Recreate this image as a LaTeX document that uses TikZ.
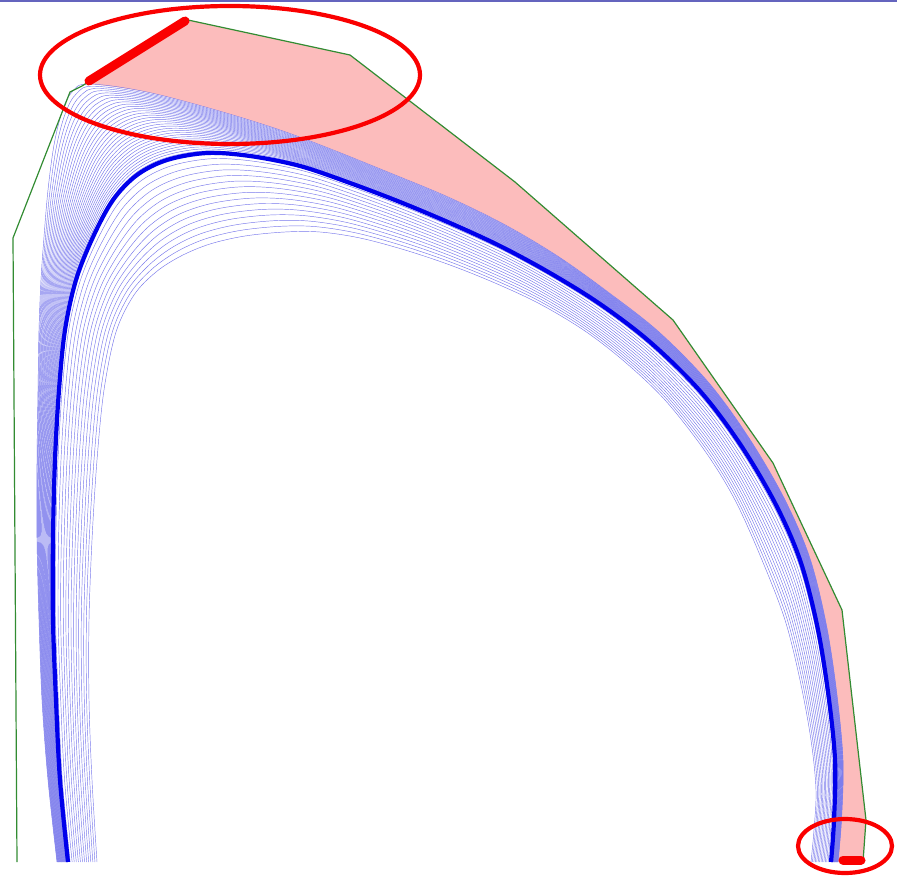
\documentclass[tikz,border=0pt]{standalone}
\usetikzlibrary{calc}
\definecolor{pinkfill}{RGB}{252,188,188}
\definecolor{wallgreen}{RGB}{50,140,50}
\definecolor{fluxblue}{RGB}{0,0,235}
\definecolor{thinblue}{RGB}{120,120,235}
\definecolor{topbar}{RGB}{100,100,190}
\definecolor{markred}{RGB}{250,0,0}
\newcommand\buildlist[2]{\gdef\ptlist{}\foreach \j in {1,...,32}{\xdef\ptlist{\ptlist($(T\j)!#2!(#1\j)$) }}}
\newcommand\drawfam[3]{\buildlist{#2}{#3}\edef\tmpcmd{\noexpand\draw[#1] plot[smooth,tension=0.55] coordinates {\ptlist};}\tmpcmd}
\begin{document}
\begin{tikzpicture}[x=1pt,y=-1pt,
  thinline/.style={draw=thinblue,line width=0.45pt},
  thickline/.style={draw=fluxblue,line width=4.2pt},
  wall/.style={draw=wallgreen,line width=1.2pt,line join=miter},
  redring/.style={draw=markred,line width=4.2pt},
  redbar/.style={draw=markred,line width=9pt,line cap=round}]
\useasboundingbox (0,0) rectangle (897,877);
% thick (separatrix) curve
\foreach \n/\p in {1/{68,862},2/{60,780},3/{56,700},4/{53,620},5/{53,540},6/{55,460},7/{59,390},8/{65,330},
  9/{76,280},10/{93,237},11/{113,200},12/{137,175},13/{167,160},14/{207,153},15/{250,156},16/{300,166},
  17/{350,183},18/{400,202},19/{450,223},20/{500,246},21/{550,273},22/{600,304},23/{650,342},24/{700,391},
  25/{740,444},26/{775,503},27/{800,560},28/{817,625},29/{828,692},30/{835,760},31/{834,820},32/{831,862}}
  {\coordinate (T\n) at (\p);}
% outer envelope
\foreach \n/\p in {1/{57,862},2/{48,780},3/{42,700},4/{39,620},5/{37,540},6/{37,460},7/{38,390},8/{39,330},
  9/{41,280},10/{44,237},11/{48,190},12/{54,145},13/{62,112},14/{72,92},15/{90,84},16/{160,95},
  17/{280,130},18/{405,179},19/{459,202},20/{509,227},21/{559,257},22/{608,292},23/{659,332},24/{709,383},
  25/{749,438},26/{784,498},27/{809.5,557},28/{826,623},29/{836.5,691},30/{843,760},31/{841.5,820},32/{838,862}}
  {\coordinate (O\n) at (\p);}
% innermost curve
\foreach \n/\p in {1/{97,862},2/{92,780},3/{89,700},4/{89,620},5/{92,540},6/{97,460},7/{104,390},8/{116,332},
  9/{134,295},10/{156,272},11/{181,256},12/{210,244},13/{245,236},14/{285,232},15/{320,232},16/{360,238},
  17/{405,250},18/{450,265},19/{495,283},20/{540,304},21/{585,331},22/{625,362},23/{665,400},24/{705,451},
  25/{735,500},26/{762,560},27/{785,620},28/{800,680},29/{811,740},30/{816,790},31/{814,830},32/{811,862}}
  {\coordinate (I\n) at (\p);}
% pink scrape-off region
\fill[pinkfill] (188,20) -- (350,55) -- (515,182) -- (673,320) -- (773,463) -- (842,610)
  -- (866,820) -- (863,862) -- plot[smooth,tension=0.55] coordinates {(O32) (O31) (O30) (O29)
  (O28) (O27) (O26) (O25) (O24) (O23) (O22) (O21) (O20) (O19) (O18) (O17) (O16) (O15)} -- cycle;
% flux surfaces
\begin{scope}
\clip (0,0) rectangle (897,862);
\foreach \k in {1,...,32}{\pgfmathsetmacro\tval{\k/32}\drawfam{thinline}{O}{\tval}}
\foreach \k in {1,...,14}{\pgfmathsetmacro\tval{\k/14}\drawfam{thinline}{I}{\tval}}
\drawfam{thickline}{O}{0}
\end{scope}
% vessel wall
\draw[wall] (17,862) -- (13,238) -- (70,92) -- (82,86) -- (188,20) -- (350,55) -- (515,182)
  -- (673,320) -- (773,463) -- (842,610) -- (866,820) -- (863,862);
% top border line
\fill[topbar] (0,0) rectangle (897,1.6);
% red markers
\draw[redbar] (89,81) -- (185,21);
\draw[redbar] (843,860) -- (861,860);
\draw[redring] (230,75) ellipse [x radius=190, y radius=69];
\draw[redring] (845,846) ellipse [x radius=47, y radius=27];
\end{tikzpicture}
\end{document}
